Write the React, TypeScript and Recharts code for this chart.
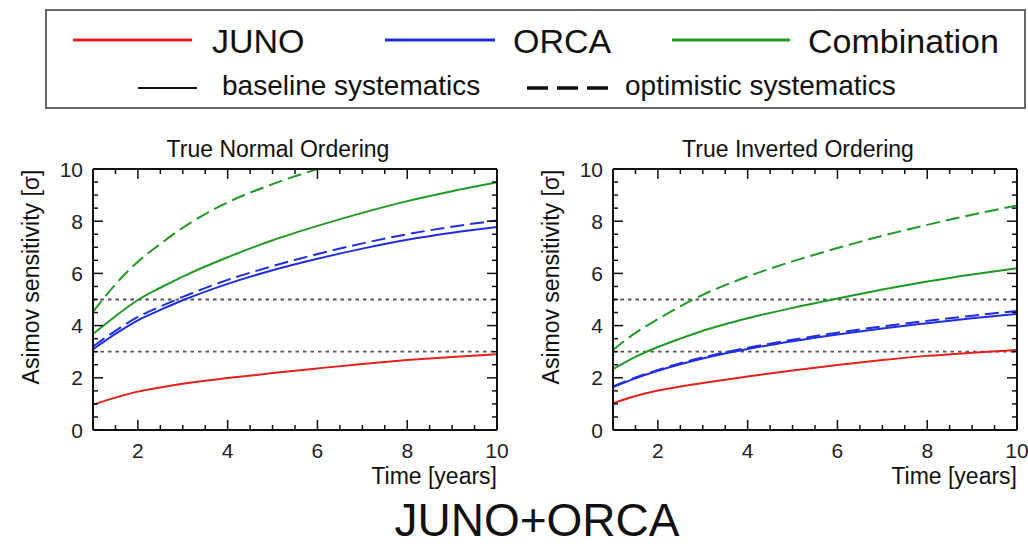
import React from 'react';
import { LineChart, Line, XAxis, YAxis, ReferenceLine } from 'recharts';

// time in years
const YEARS = [1, 1.5, 2, 2.5, 3, 4, 5, 6, 7, 8, 9, 10];

// True Normal Ordering
const NO_JUNO = [0.97, 1.24, 1.47, 1.63, 1.77, 1.99, 2.18, 2.36, 2.53, 2.68, 2.8, 2.9];
const NO_ORCA = [3.09, 3.68, 4.2, 4.6, 4.97, 5.6, 6.12, 6.56, 6.95, 7.29, 7.56, 7.78];
const NO_ORCA_OPT = [3.2, 3.8, 4.33, 4.73, 5.1, 5.75, 6.28, 6.74, 7.15, 7.5, 7.79, 8.03];
const NO_COMB = [3.68, 4.36, 4.98, 5.45, 5.88, 6.62, 7.27, 7.82, 8.32, 8.77, 9.15, 9.49];
const NO_COMB_OPT = [4.53, 5.58, 6.45, 7.13, 7.75, 8.72, 9.42, 10.0, null, null, null, null];

// True Inverted Ordering
const IO_JUNO = [1.02, 1.3, 1.51, 1.67, 1.8, 2.05, 2.28, 2.49, 2.68, 2.84, 2.96, 3.07];
const IO_ORCA = [1.64, 1.98, 2.27, 2.52, 2.74, 3.1, 3.4, 3.66, 3.89, 4.09, 4.28, 4.45];
const IO_ORCA_OPT = [1.67, 2.01, 2.3, 2.56, 2.78, 3.15, 3.46, 3.73, 3.97, 4.18, 4.38, 4.56];
const IO_COMB = [2.33, 2.8, 3.18, 3.5, 3.8, 4.28, 4.68, 5.04, 5.38, 5.69, 5.96, 6.2];
const IO_COMB_OPT = [3.07, 3.72, 4.25, 4.74, 5.18, 5.88, 6.46, 6.97, 7.44, 7.86, 8.25, 8.6];

const X_TICKS = [1.5, 2, 2.5, 3, 3.5, 4, 4.5, 5, 5.5, 6, 6.5, 7, 7.5, 8, 8.5, 9, 9.5, 10];
const Y_TICKS = [0, 0.5, 1, 1.5, 2, 2.5, 3, 3.5, 4, 4.5, 5, 5.5, 6, 6.5, 7, 7.5, 8, 8.5, 9, 9.5, 10];
const THRESHOLDS = [3, 5];

const RED = '#e3211c';
const BLUE = '#1f2fe0';
const GREEN = '#1f9a22';
const FONT = '"Liberation Sans", Arial, Helvetica, sans-serif';
const INK = '#111';

function buildRows(juno: number[], orca: number[], orcaOpt: number[], comb: number[], combOpt: (number | null)[]) {
  return YEARS.map((t, i) => ({
    t,
    juno: juno[i],
    orca: orca[i],
    orcaOpt: orcaOpt[i],
    comb: comb[i],
    combOpt: combOpt[i],
  }));
}

const NO_ROWS = buildRows(NO_JUNO, NO_ORCA, NO_ORCA_OPT, NO_COMB, NO_COMB_OPT);
const IO_ROWS = buildRows(IO_JUNO, IO_ORCA, IO_ORCA_OPT, IO_COMB, IO_COMB_OPT);

const isMajor = (v: number) => Math.abs(v % 2) < 1e-9;

function BottomTick({ x, y, payload }: any) {
  const v = payload.value;
  const major = isMajor(v);
  return (
    <g>
      <line x1={x} x2={x} y1={y} y2={y - (major ? 10 : 5)} stroke={INK} strokeWidth={1.5} />
      {major && (
        <text x={x} y={y + 28} textAnchor="middle" fontSize={21} fontFamily={FONT} fill="#222">
          {v}
        </text>
      )}
    </g>
  );
}

function TopTick({ x, y, payload }: any) {
  const major = isMajor(payload.value);
  return <line x1={x} x2={x} y1={y} y2={y + (major ? 10 : 5)} stroke={INK} strokeWidth={1.5} />;
}

function LeftTick({ x, y, payload }: any) {
  const v = payload.value;
  const major = isMajor(v);
  return (
    <g>
      <line x1={x} x2={x + (major ? 10 : 5)} y1={y} y2={y} stroke={INK} strokeWidth={1.5} />
      {major && (
        <text x={x - 10} y={y + 7.5} textAnchor="end" fontSize={21} fontFamily={FONT} fill="#222">
          {v}
        </text>
      )}
    </g>
  );
}

function RightTick({ x, y, payload }: any) {
  const major = isMajor(payload.value);
  return <line x1={x} x2={x - (major ? 10 : 5)} y1={y} y2={y} stroke={INK} strokeWidth={1.5} />;
}

const frame = { stroke: INK, strokeWidth: 2 };

function Panel({ rows, left, width, rightMargin }: { rows: any[]; left: number; width: number; rightMargin: number }) {
  return (
    <div style={{ position: 'absolute', left, top: 120 }}>
      <LineChart width={width} height={360} data={rows} margin={{ top: 48, right: rightMargin, bottom: 0, left: 53 }}>
        <XAxis
          dataKey="t"
          type="number"
          domain={[1, 10]}
          allowDataOverflow
          ticks={X_TICKS}
          interval={0}
          tickSize={0}
          tickMargin={0}
          tickLine={false}
          axisLine={frame}
          height={50}
          tick={<BottomTick />}
        />
        <XAxis
          xAxisId="top"
          orientation="top"
          dataKey="t"
          type="number"
          domain={[1, 10]}
          allowDataOverflow
          ticks={X_TICKS}
          interval={0}
          tickSize={0}
          tickMargin={0}
          tickLine={false}
          axisLine={frame}
          height={1}
          tick={<TopTick />}
        />
        <YAxis
          type="number"
          domain={[0, 10]}
          allowDataOverflow
          ticks={Y_TICKS}
          interval={0}
          tickSize={0}
          tickMargin={0}
          tickLine={false}
          axisLine={frame}
          width={40}
          tick={<LeftTick />}
        />
        <YAxis
          yAxisId="right"
          orientation="right"
          type="number"
          domain={[0, 10]}
          allowDataOverflow
          ticks={Y_TICKS}
          interval={0}
          tickSize={0}
          tickMargin={0}
          tickLine={false}
          axisLine={frame}
          width={1}
          tick={<RightTick />}
        />
        {THRESHOLDS.map((v) => (
          <ReferenceLine key={v} y={v} stroke="#555" strokeWidth={1.8} strokeDasharray="3.5 4" />
        ))}
        <Line type="monotone" dataKey="juno" stroke={RED} strokeWidth={2} dot={false} activeDot={false} isAnimationActive={false} />
        <Line type="monotone" dataKey="orca" stroke={BLUE} strokeWidth={2} dot={false} activeDot={false} isAnimationActive={false} />
        <Line type="monotone" dataKey="orcaOpt" stroke={BLUE} strokeWidth={2} strokeDasharray="14 6" dot={false} activeDot={false} isAnimationActive={false} />
        <Line type="monotone" dataKey="comb" stroke={GREEN} strokeWidth={2} dot={false} activeDot={false} isAnimationActive={false} />
        <Line type="monotone" dataKey="combOpt" stroke={GREEN} strokeWidth={2} strokeDasharray="14 6" dot={false} activeDot={false} isAnimationActive={false} />
      </LineChart>
    </div>
  );
}

function Overlay() {
  const txt = { fontFamily: FONT, fill: INK } as const;
  return (
    <svg width={1028} height={547} style={{ position: 'absolute', left: 0, top: 0, pointerEvents: 'none' }}>
      {/* legend box */}
      <rect x={46} y={10} width={979} height={98} fill="none" stroke="#666" strokeWidth={2} />
      <line x1={73} x2={192} y1={40} y2={40} stroke={RED} strokeWidth={3} />
      <text x={212} y={53} fontSize={34} {...txt}>JUNO</text>
      <line x1={385} x2={495} y1={40} y2={40} stroke={BLUE} strokeWidth={3} />
      <text x={513} y={53} fontSize={34} {...txt}>ORCA</text>
      <line x1={672} x2={790} y1={40} y2={40} stroke={GREEN} strokeWidth={3} />
      <text x={808} y={53} fontSize={34} {...txt}>Combination</text>
      <line x1={138} x2={197} y1={88} y2={88} stroke={INK} strokeWidth={2} />
      <text x={222} y={95} fontSize={28} {...txt}>baseline systematics</text>
      <line x1={527} x2={608} y1={88} y2={88} stroke={INK} strokeWidth={3.5} strokeDasharray="21 9" />
      <text x={625} y={95} fontSize={28} {...txt}>optimistic systematics</text>

      {/* panel titles */}
      <text x={278} y={157} fontSize={23} textAnchor="middle" {...txt}>True Normal Ordering</text>
      <text x={798} y={157} fontSize={23} textAnchor="middle" {...txt}>True Inverted Ordering</text>

      {/* axis titles */}
      <text transform="translate(31,277) rotate(-90)" fontSize={23} textAnchor="middle" dominantBaseline="central" {...txt}>
        Asimov sensitivity [σ]
      </text>
      <text transform="translate(551,277) rotate(-90)" fontSize={23} textAnchor="middle" dominantBaseline="central" {...txt}>
        Asimov sensitivity [σ]
      </text>
      <text x={497} y={484} fontSize={23} textAnchor="end" {...txt}>Time [years]</text>
      <text x={1017} y={484} fontSize={23} textAnchor="end" {...txt}>Time [years]</text>

      <text x={537} y={536} fontSize={46} textAnchor="middle" {...txt}>JUNO+ORCA</text>
    </svg>
  );
}

export default function App() {
  return (
    <div style={{ position: 'relative', width: 1028, height: 547, background: '#fff', overflow: 'hidden' }}>
      <style>{'body{margin:0}'}</style>
      <Panel rows={NO_ROWS} left={0} width={520} rightMargin={22} />
      <Panel rows={IO_ROWS} left={520} width={508} rightMargin={10} />
      <Overlay />
    </div>
  );
}
